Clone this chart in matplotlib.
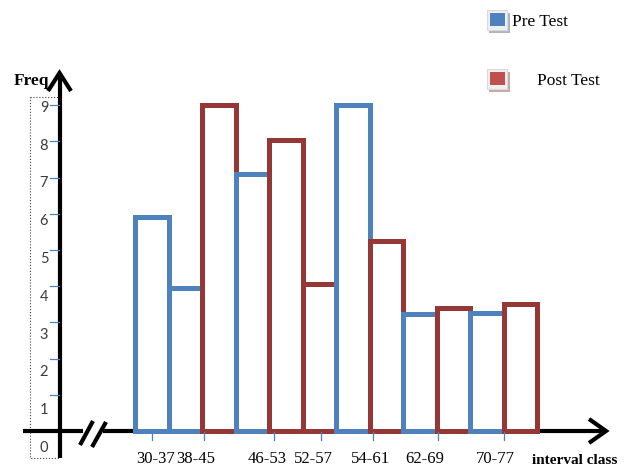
import numpy as np
import matplotlib.pyplot as plt
from matplotlib.transforms import Affine2D, blended_transform_factory
from matplotlib.patches import Rectangle
from matplotlib.lines import Line2D

# frequencies per bar, left to right, and which test each bar belongs to
heights = [5.9, 3.95, 9.0, 7.1, 8.05, 4.05, 9.0, 5.25, 3.22, 3.39, 3.25, 3.5]
groups = ['Pre Test', 'Pre Test', 'Post Test', 'Pre Test', 'Post Test', 'Post Test',
          'Pre Test', 'Post Test', 'Pre Test', 'Post Test', 'Pre Test', 'Post Test']
intervals = ['30-37', '38-45', '46-53', '52-57', '54-61', '62-69', '70-77']
freq_labels = list(range(10))

# where the interval marks and their labels sit along the bar axis
interval_ticks = [0.51, 2.06, 4.15, 5.55, 7.10, 9.04, 11.01]
interval_text = [0.60, 1.82, 3.94, 5.34, 7.04, 8.66, 10.75]

colors = {'Pre Test': '#4f81bd', 'Post Test': '#953735'}
legend_shadow = {'Pre Test': '#a9b5ca', 'Post Test': '#caa9a9'}
legend_fill = {'Pre Test': '#4f81bd', 'Post Test': '#c0504d'}

W, H = 633, 466
fig = plt.figure(figsize=(W / 100, H / 100), dpi=100)
ax = fig.add_axes([0, 0, 1, 1])
ax.axis('off')

# origin of the bars in pixels and pixel size of one unit
x0, xu = 135, 33.5
y0, yu = 431, 36.2
ax.set_xlim(-x0 / xu, (W - x0) / xu)
ax.set_ylim(-(H - y0) / yu, y0 / yu)

# pixel coordinates measured from the top-left corner
px = Affine2D().scale(1, -1).translate(0, H)
x_data_y_px = blended_transform_factory(ax.transData, px)
x_px_y_data = blended_transform_factory(px, ax.transData)

ax.bar(np.arange(len(heights)), heights, width=1, align='edge', color='white',
       edgecolor=[colors[g] for g in groups], linewidth=3.6, zorder=3)

axis_kw = dict(color='black', lw=3, transform=px, zorder=2,
               solid_joinstyle='miter', solid_capstyle='butt')
# x axis with a break near the origin
ax.add_line(Line2D([23, 83], [431, 431], **axis_kw))
ax.add_line(Line2D([103, 606], [431, 431], **axis_kw))
ax.add_line(Line2D([589, 606, 589], [419, 431, 443], **axis_kw))
ax.add_line(Line2D([80, 93], [445, 421], **axis_kw))
ax.add_line(Line2D([92, 106], [447, 422], **axis_kw))
# y axis
ax.add_line(Line2D([59.5, 59.5], [458, 73], **axis_kw))
ax.add_line(Line2D([48, 59.5, 71], [91, 73, 91], **axis_kw))

# dotted frame around the frequency labels
ax.add_patch(Rectangle((30, 97), 28, 361, transform=px, fill=False,
                       edgecolor='#444444', lw=0.8, linestyle=':', zorder=1))

for v in freq_labels[1:]:
    ax.add_line(Line2D([50, 59], [v, v], transform=x_px_y_data,
                       color='#4f81bd', lw=0.9, zorder=2))
for k in freq_labels:
    ax.text(44, 452 - k * 37.8, str(k), transform=px, ha='center', va='baseline',
            family='Lato', fontsize=10.5, color='#3b3b3b')

for xt, xl, lab in zip(interval_ticks, interval_text, intervals):
    ax.add_line(Line2D([xt, xt], [432, 440], transform=x_data_y_px,
                       color='#4f81bd', lw=0.9, zorder=4))
    ax.text(xl, 463, lab, transform=x_data_y_px, ha='center', va='baseline',
            family='Liberation Serif', fontsize=12)

ax.text(532, 464, 'interval class', transform=px, ha='left', va='baseline',
        family='Liberation Serif', fontsize=11, fontweight='bold')
ax.text(14, 85, 'Freq', transform=px, ha='left', va='baseline',
        family='Liberation Serif', fontsize=12.5, fontweight='bold')

# legend boxes
for name, top, text_x in [('Pre Test', 10, 512), ('Post Test', 69, 537)]:
    ax.add_patch(Rectangle((489, top + 3), 21, 20, transform=px,
                           facecolor=legend_shadow[name], edgecolor='none', zorder=5))
    ax.add_patch(Rectangle((487, top), 20, 20, transform=px,
                           facecolor='#f0f0f0', edgecolor='#dadada', lw=0.8, zorder=6))
    ax.add_patch(Rectangle((490, top + 3), 15, 13, transform=px,
                           facecolor=legend_fill[name], edgecolor='none', zorder=7))
    ax.text(text_x, top + 16, name, transform=px, ha='left', va='baseline',
            family='Liberation Serif', fontsize=12.5)

fig.savefig('out.png', dpi=100)
